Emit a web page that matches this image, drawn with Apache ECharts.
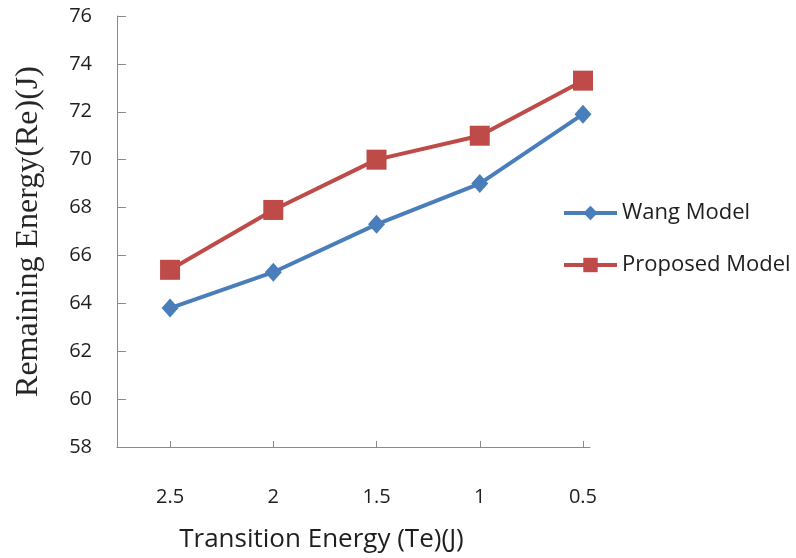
<!DOCTYPE html>
<html>
<head>
<meta charset="utf-8">
<script src="https://cdn.jsdelivr.net/npm/echarts@6/dist/echarts.min.js"></script>
<style>
  html, body { margin: 0; padding: 0; background: #fff; }
  #chart { width: 796px; height: 558px; }
</style>
</head>
<body>
<div id="chart"></div>
<script>
// Transition energy levels (J), plotted from highest to lowest
const transitionEnergy = [2.5, 2, 1.5, 1, 0.5];
const wangModel = [63.8, 65.3, 67.3, 69.0, 71.9];
const proposedModel = [65.4, 67.9, 70.0, 71.0, 73.3];
const yTicks = [58, 60, 62, 64, 66, 68, 70, 72, 74, 76];

const pairs = (vals) => transitionEnergy.map((x, i) => [x, vals[i]]);

const axisGray = '#8a8a8a';
const textColor = '#1e1e1e';
const sans = '"Open Sans", "Liberation Sans", sans-serif';

const chart = echarts.init(document.getElementById('chart'), null, { renderer: 'canvas' });
chart.setOption({
  animation: false,
  backgroundColor: '#fff',
  grid: { left: 117, right: 206, top: 16, bottom: 108, containLabel: false },
  legend: {
    orient: 'vertical',
    left: 557,
    top: 197,
    itemWidth: 53,
    itemHeight: 18,
    itemGap: 30,
    lineStyle: { width: 4 },
    textStyle: { fontFamily: sans, fontSize: 22, color: textColor },
    data: ['Wang Model', 'Proposed Model']
  },
  xAxis: {
    type: 'value',
    inverse: true,
    min: 0.466,
    max: 2.757,
    name: 'Transition Energy (Te)(J)',
    nameLocation: 'middle',
    nameGap: 80,
    nameTextStyle: { fontFamily: sans, fontSize: 26, color: textColor, padding: [0, 64, 0, 0] },
    axisLine: { show: true, lineStyle: { color: axisGray, width: 1 } },
    axisTick: { show: true, inside: true, length: 6, customValues: transitionEnergy, lineStyle: { color: axisGray } },
    axisLabel: {
      customValues: transitionEnergy,
      margin: 40,
      fontFamily: sans,
      fontSize: 20,
      color: textColor,
      formatter: (v) => String(v)
    },
    splitLine: { show: false }
  },
  yAxis: {
    type: 'value',
    min: 58,
    max: 76,
    interval: 2,
    name: 'Remaining Energy(Re)(J)',
    nameLocation: 'middle',
    nameGap: 72,
    nameTextStyle: { fontFamily: '"Liberation Serif", "DejaVu Serif", serif', fontSize: 32, color: '#262626' },
    axisLine: { show: true, lineStyle: { color: axisGray, width: 1 } },
    axisTick: { show: true, inside: true, length: 9, lineStyle: { color: axisGray } },
    axisLabel: {
      margin: 25,
      fontFamily: sans,
      fontSize: 20,
      color: textColor,
      customValues: yTicks
    },
    splitLine: { show: false }
  },
  series: [
    {
      name: 'Wang Model',
      type: 'line',
      data: pairs(wangModel),
      symbol: 'diamond',
      symbolSize: [17, 19],
      itemStyle: { color: '#4a7ebb' },
      lineStyle: { color: '#4a7ebb', width: 4 }
    },
    {
      name: 'Proposed Model',
      type: 'line',
      data: pairs(proposedModel),
      symbol: 'rect',
      symbolSize: 20,
      itemStyle: { color: '#be4b48' },
      lineStyle: { color: '#be4b48', width: 4 }
    }
  ]
});
</script>
</body>
</html>
